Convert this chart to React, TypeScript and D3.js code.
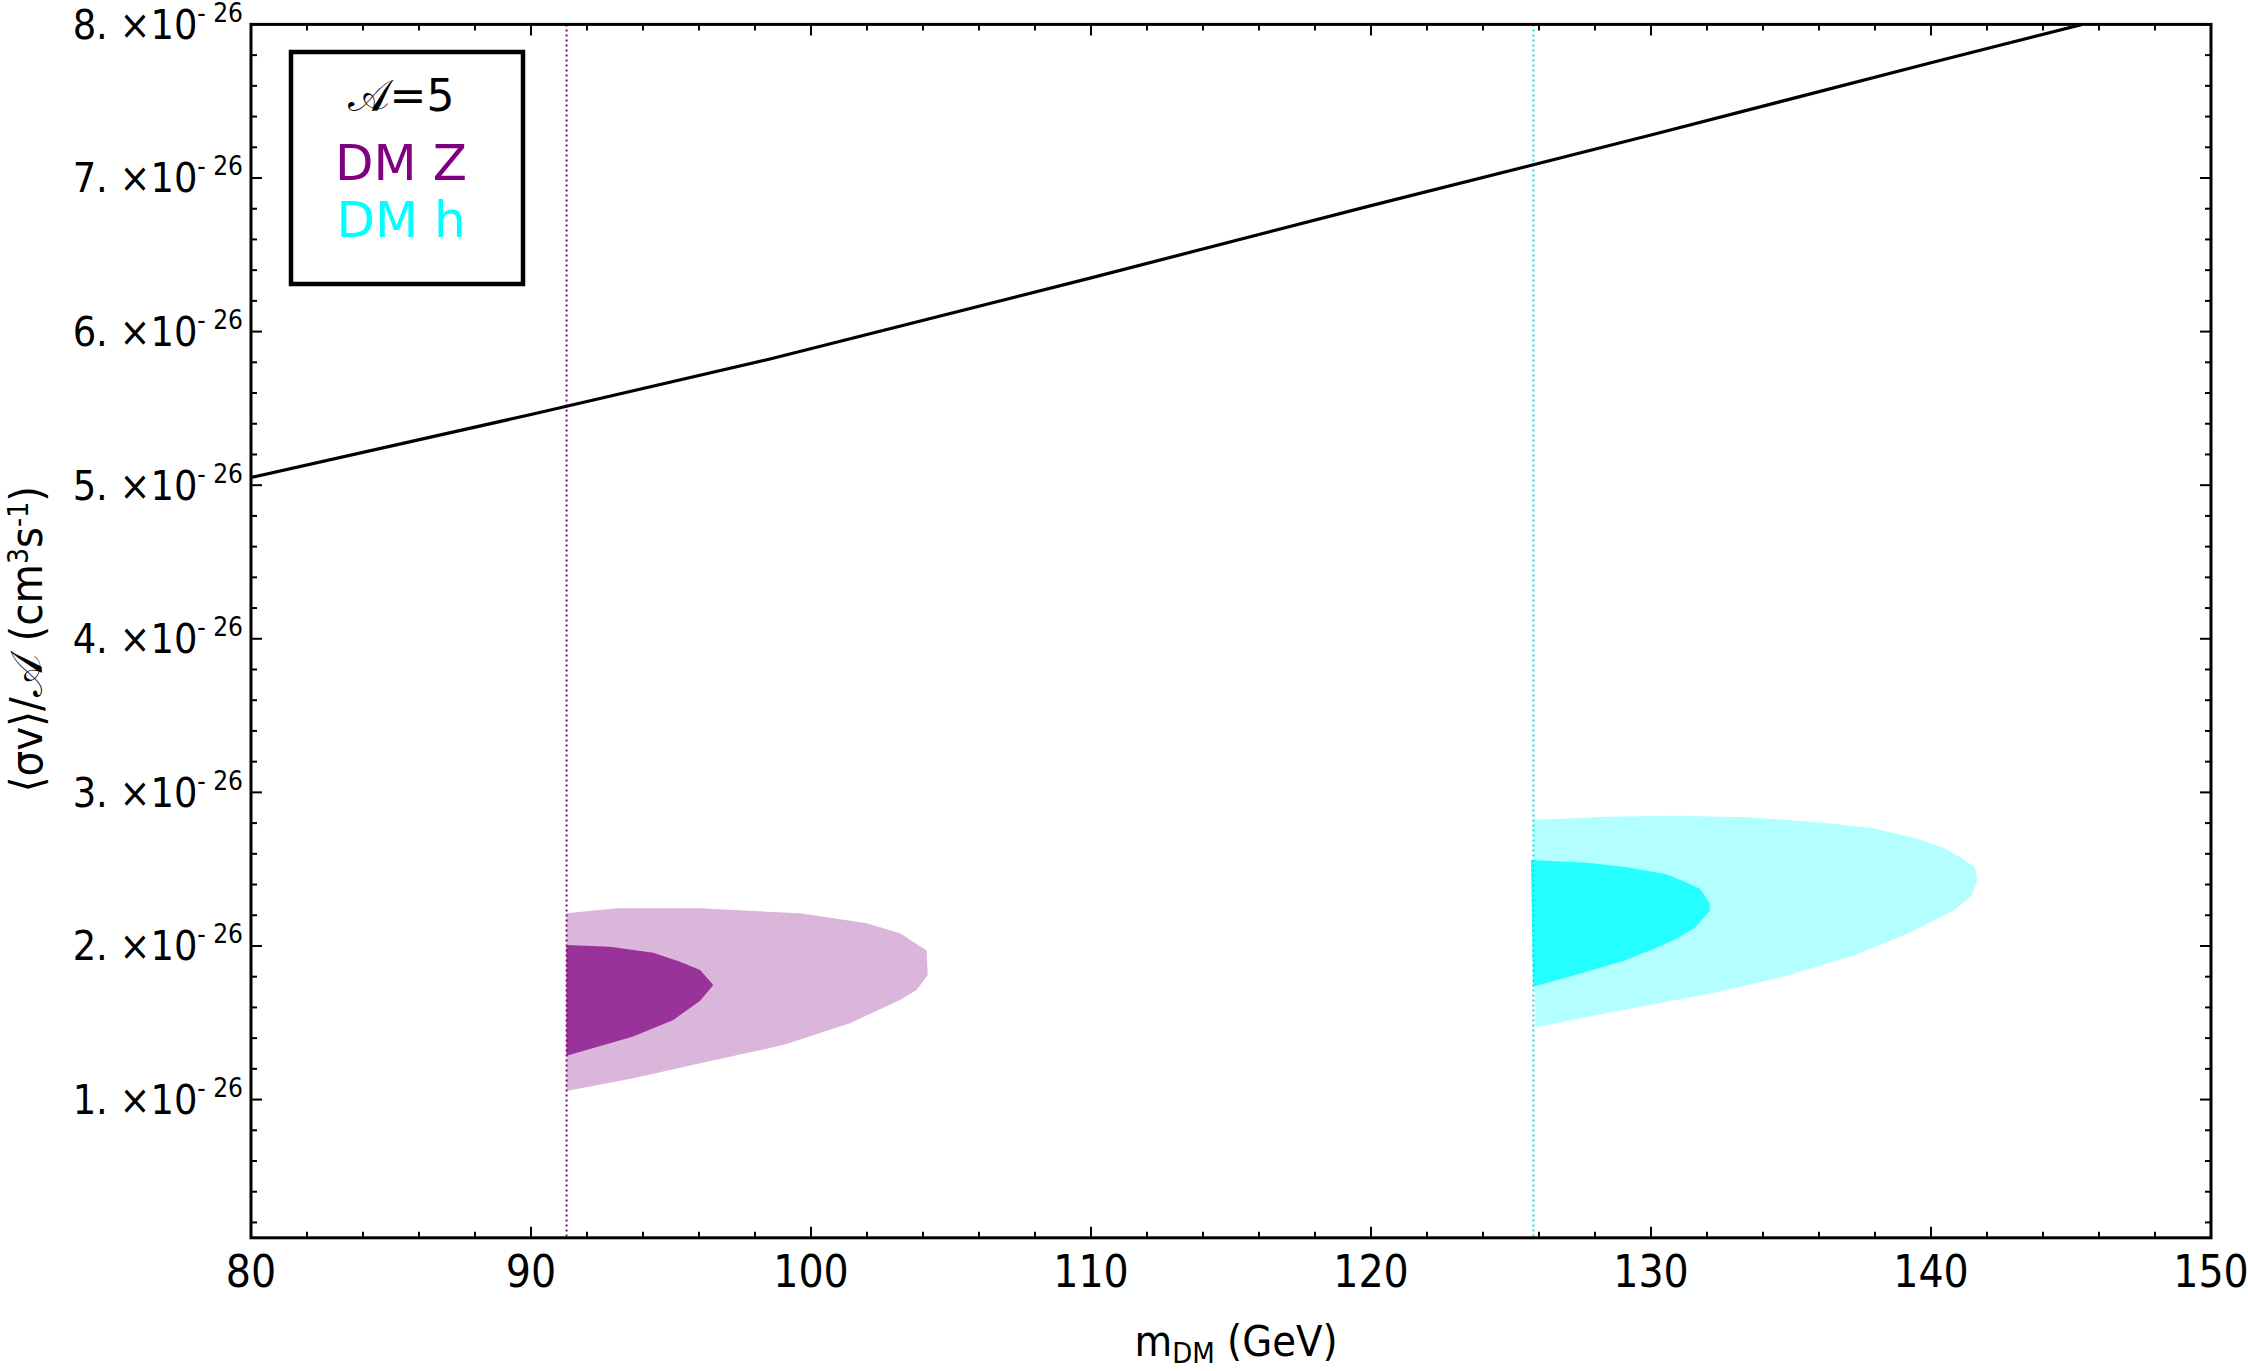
import React from "react";
import * as d3 from "d3";

// axis ticks
const massTicks = [80, 90, 100, 110, 120, 130, 140, 150];
const sigmaTicks = [1, 2, 3, 4, 5, 6, 7, 8];

// vertical reference masses (GeV)
const mZ = 91.27;
const mH = 125.8;

// thermal relic line: [mass, <sv>/A in 1e-26]
const thermalLine: [number, number][] = [
  [80, 5.05], [90, 5.46], [98.5, 5.82], [110, 6.35],
  [120, 6.82], [130, 7.28], [140, 7.75], [145.4, 8.0],
];

// DM -> Z contours
const zOuter: [number, number][] = [
  [91.27, 2.213], [93.06, 2.245], [96.04, 2.245], [99.61, 2.213], [101.99, 2.148],
  [103.18, 2.083], [104.13, 1.97], [104.17, 1.811], [103.77, 1.714], [103.18, 1.648],
  [101.39, 1.497], [99.01, 1.355], [96.04, 1.236], [93.65, 1.139], [91.27, 1.056],
];
const zInner: [number, number][] = [
  [91.27, 2.007], [92.82, 1.995], [94.37, 1.956], [95.32, 1.898], [96.04, 1.844],
  [96.51, 1.746], [96.04, 1.644], [95.08, 1.518], [93.65, 1.41], [91.27, 1.286],
];

// DM -> h contours
const hOuter: [number, number][] = [
  [125.81, 2.82], [128.36, 2.842], [130.91, 2.848], [133.46, 2.838], [136.02, 2.805],
  [137.93, 2.766], [139.46, 2.701], [140.48, 2.636], [141.05, 2.578], [141.56, 2.512],
  [141.66, 2.43], [141.44, 2.326], [140.79, 2.228], [139.2, 2.083], [137.29, 1.941],
  [134.73, 1.8], [132.18, 1.692], [128.99, 1.583], [125.87, 1.471],
];
const hInner: [number, number][] = [
  [125.71, 2.56], [127.74, 2.542], [129.15, 2.512], [130.55, 2.467], [131.19, 2.419],
  [131.76, 2.371], [132.1, 2.278], [132.1, 2.23], [131.57, 2.119], [130.86, 2.044],
  [130.16, 1.985], [129.0, 1.902], [127.73, 1.833], [125.79, 1.735],
];

const W = 2248;
const H = 1371;
const L = 251, R = 2211, T = 24.4, B = 1237.8;

const condensed = "'DejaVu Sans Condensed', 'DejaVu Sans', sans-serif";
const sans = "'DejaVu Sans', sans-serif";

export default function App() {
  const x = d3.scaleLinear().domain([80, 150]).range([L, R]);
  const y = d3.scaleLinear().domain([0.1, 8]).range([B, T]);

  const line = d3.line<[number, number]>().x(d => x(d[0])).y(d => y(d[1]));
  const closed = d3.line<[number, number]>().x(d => x(d[0])).y(d => y(d[1])).curve(d3.curveLinearClosed);

  const xMinor = x.ticks(35);
  const yMinor = y.ticks(40).filter(v => v > 0.1);
  const isMajor = (v: number, list: number[]) => list.some(m => Math.abs(m - v) < 1e-6);

  return (
    <div style={{ position: "absolute", left: 0, top: 0 }}>
      <svg width={W} height={H} style={{ display: "block", background: "#fff" }}>
        <defs>
          <clipPath id="plot">
            <rect x={L} y={T} width={R - L} height={B - T} />
          </clipPath>
        </defs>

        <g clipPath="url(#plot)">
          <path d={closed(zOuter) || ""} fill="#DAB6DA" />
          <path d={closed(zInner) || ""} fill="#993399" />
          <path d={closed(hOuter) || ""} fill="#B3FFFF" />
          <path d={closed(hInner) || ""} fill="#26FFFF" />

          <line x1={x(mZ)} x2={x(mZ)} y1={T} y2={B} stroke="#800080" strokeWidth={2} strokeDasharray="2 3" />
          <line x1={x(mH)} x2={x(mH)} y1={T} y2={B} stroke="#00E5E5" strokeWidth={2} strokeDasharray="2 3" />

          <path d={line(thermalLine) || ""} fill="none" stroke="#000" strokeWidth={3.2} />
        </g>

        {/* ticks on all four sides, pointing inward */}
        {xMinor.map(v => {
          const len = isMajor(v, massTicks) ? 11 : 6;
          return (
            <g key={"xt" + v} stroke="#000" strokeWidth={2}>
              <line x1={x(v)} x2={x(v)} y1={B} y2={B - len} />
              <line x1={x(v)} x2={x(v)} y1={T} y2={T + len} />
            </g>
          );
        })}
        {yMinor.map(v => {
          const len = isMajor(v, sigmaTicks) ? 11 : 6;
          return (
            <g key={"yt" + v} stroke="#000" strokeWidth={2}>
              <line x1={L} x2={L + len} y1={y(v)} y2={y(v)} />
              <line x1={R} x2={R - len} y1={y(v)} y2={y(v)} />
            </g>
          );
        })}

        <rect x={L} y={T} width={R - L} height={B - T} fill="none" stroke="#000" strokeWidth={3} />

        {/* tick labels */}
        {massTicks.map(v => (
          <text key={"xl" + v} x={x(v)} y={1287} textAnchor="middle" fontSize={44}
            fontFamily={condensed} fontStretch="condensed">{v}</text>
        ))}
        {sigmaTicks.map(v => (
          <text key={"yl" + v} x={243} y={y(v) + 14.5} textAnchor="end" fontSize={41}
            fontFamily={condensed} fontStretch="condensed">
            {`${v}. ×10`}
            <tspan dy={-17} fontSize={26}>- 26</tspan>
          </text>
        ))}

        {/* axis titles */}
        <text x={(L + R) / 2 + 5} y={1356} textAnchor="middle" fontSize={43}
          fontFamily={condensed} fontStretch="condensed">
          m<tspan dy={7} fontSize={29}>DM</tspan><tspan dy={-7}> (GeV)</tspan>
        </text>
        <text transform={`translate(42, ${(T + B) / 2 + 8}) rotate(-90)`} textAnchor="middle" fontSize={45}
          fontFamily={condensed} fontStretch="condensed">
          ⟨σv⟩/𝒜 (cm<tspan dy={-14} fontSize={28}>3</tspan><tspan dy={14}>s</tspan>
          <tspan dy={-14} fontSize={28}>-1</tspan><tspan dy={14}>)</tspan>
        </text>

        {/* legend */}
        <rect x={291} y={52} width={232} height={232} fill="#fff" stroke="#000" strokeWidth={4.5} />
        <text x={401} y={111} textAnchor="middle" fontSize={44} fontFamily={sans}>𝒜=5</text>
        <text x={401} y={180} textAnchor="middle" fontSize={50} fontFamily={sans} fill="#800080">DM Z</text>
        <text x={401} y={237} textAnchor="middle" fontSize={50} fontFamily={sans} fill="#00FFFF">DM h</text>
      </svg>
    </div>
  );
}
